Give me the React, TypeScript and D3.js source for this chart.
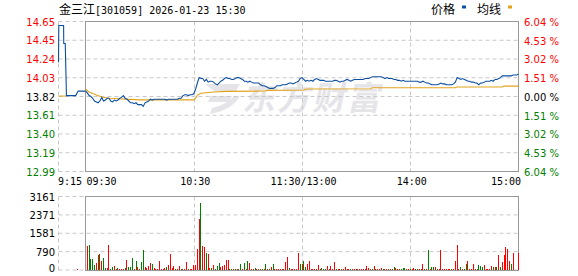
import React from 'react';
import * as d3 from 'd3';

const prevClose = 13.82;
const pctRange = 0.0604;
const priceTicks = ['14.65', '14.45', '14.24', '14.03', '13.82', '13.61', '13.40', '13.19', '12.99'];
const pctTicks = ['6.04', '4.53', '3.02', '1.51', '0.00', '1.51', '3.02', '4.53', '6.04'];
const volTicks = [3161, 2371, 1581, 790, 0];
const timeTicks = [60, 120, 180];
const timeLabels = ['9:15', '09:30', '10:30', '11:30/13:00', '14:00', '15:00'];

// pre-market (9:15-9:30), seconds after 9:15
const preSec = [0, 10, 170, 175, 225, 265, 575, 655, 900];
const prePrice = [14.2, 14.61, 14.61, 14.41, 14.41, 13.83, 13.83, 13.88, 13.88];
const preAvgSec = [0, 265];
const preAvg = [13.825, 13.825];
const preVolSec = [645];
const preVol = [60];

// one value per minute, 9:30 .. 15:00 (241)
const price = [
  13.88, 13.86, 13.83, 13.82, 13.8, 13.77, 13.76, 13.75, 13.77, 13.81,
  13.77, 13.78, 13.8, 13.8, 13.77, 13.76, 13.78, 13.77, 13.78, 13.8,
  13.81, 13.83, 13.8, 13.79, 13.77, 13.75, 13.75, 13.74, 13.75, 13.73,
  13.73, 13.73, 13.71, 13.75, 13.76, 13.77, 13.79, 13.78, 13.79, 13.79,
  13.79, 13.79, 13.79, 13.79, 13.79, 13.78, 13.79, 13.79, 13.79, 13.79,
  13.79, 13.79, 13.8, 13.8, 13.83, 13.84, 13.84, 13.83, 13.84, 13.84,
  13.85, 13.9, 13.97, 14.03, 14.02, 14.02, 13.99, 14.01, 13.98, 13.99,
  13.99, 13.98, 13.96, 13.95, 13.97, 13.99, 14.0, 14.02, 14.03, 14.02,
  14.02, 14.01, 14.01, 14.02, 14.03, 14.03, 14.02, 14.01, 13.99, 13.99,
  13.98, 13.99, 13.98, 13.97, 13.97, 13.97, 13.97, 13.95, 13.94, 13.94,
  13.93, 13.92, 13.91, 13.91, 13.91, 13.92, 13.94, 13.94, 13.94, 13.95,
  13.95, 13.95, 13.96, 13.97, 13.97, 13.96, 13.97, 13.98, 13.99, 14.02,
  14.03, 14.01, 13.99, 14.0, 13.99, 14.0, 13.99, 14.01, 14.02, 14.01,
  14.0, 14.0, 14.0, 13.99, 13.99, 13.99, 13.99, 13.99, 14.0, 14.0,
  13.99, 13.98, 13.99, 13.99, 14.0, 14.01, 14.0, 13.99, 14.0, 14.01,
  14.01, 14.01, 14.01, 14.01, 14.01, 14.02, 14.02, 14.02, 14.03, 14.04,
  14.04, 14.04, 14.04, 14.04, 14.04, 14.03, 14.02, 14.03, 14.02, 14.02,
  14.02, 14.01, 14.01, 14.0, 14.0, 13.99, 14.0, 13.99, 13.99, 13.99,
  13.99, 13.99, 13.99, 13.99, 13.99, 13.98, 13.98, 13.99, 13.98, 13.97,
  13.97, 13.96, 13.95, 13.95, 13.95, 13.95, 13.96, 13.97, 13.96, 13.96,
  13.95, 13.95, 13.95, 13.95, 13.96, 13.98, 14.03, 14.02, 14.01, 14.02,
  14.01, 14.0, 13.99, 13.99, 13.98, 13.98, 13.97, 13.97, 13.95, 13.97,
  13.97, 13.98, 13.99, 13.99, 13.99, 14.0, 13.99, 14.01, 14.01, 14.02,
  14.03, 14.05, 14.05, 14.05, 14.05, 14.05, 14.05, 14.06, 14.06, 14.06,
  14.07,
];

// average price line, read at its turning points
const avgMin = [0, 2, 5, 9, 13, 30, 60, 61, 62, 64, 71, 78, 99, 101, 121, 122, 158, 159, 205, 206, 231, 232, 240];
const avgVal = [13.9, 13.87, 13.845, 13.815, 13.8, 13.782, 13.782, 13.8, 13.833, 13.856, 13.87, 13.877, 13.881, 13.888, 13.892, 13.903, 13.906, 13.917, 13.917, 13.925, 13.925, 13.936, 13.936];

const vol = [
  0, 1025, 1070, 470, 470, 210, 280, 640, 680, 385,
  510, 85, 85, 1070, 40, 130, 170, 40, 85, 40,
  40, 40, 85, 430, 130, 130, 510, 40, 385, 130,
  40, 340, 850, 130, 85, 170, 300, 255, 85, 40,
  40, 385, 40, 40, 85, 130, 210, 680, 85, 170,
  40, 40, 170, 40, 40, 40, 340, 40, 40, 40,
  210, 210, 900, 2180, 2900, 1025, 980, 725, 680, 85,
  85, 210, 40, 170, 300, 130, 170, 210, 430, 430,
  40, 40, 40, 40, 40, 40, 255, 40, 300, 40,
  385, 300, 40, 40, 85, 40, 40, 40, 40, 40,
  255, 40, 40, 130, 255, 40, 40, 40, 40, 40,
  40, 340, 555, 85, 40, 40, 40, 40, 725, 255,
  255, 385, 130, 255, 385, 40, 40, 40, 40, 210,
  40, 85, 40, 40, 170, 40, 170, 40, 340, 40,
  40, 40, 40, 40, 130, 40, 40, 40, 40, 40,
  40, 40, 40, 40, 40, 40, 170, 85, 40, 40,
  170, 40, 40, 40, 85, 40, 40, 40, 40, 40,
  40, 130, 85, 40, 40, 40, 85, 85, 40, 40,
  40, 40, 85, 40, 40, 40, 40, 255, 40, 40,
  850, 40, 130, 130, 130, 40, 40, 850, 40, 40,
  40, 40, 40, 40, 40, 385, 1070, 40, 130, 40,
  40, 255, 385, 40, 40, 255, 40, 40, 210, 170,
  130, 210, 40, 40, 40, 170, 130, 130, 130, 640,
  130, 340, 640, 980, 900, 385, 255, 725, 0, 0,
  725,
];

// r = up minute (red), g = down minute (green)
const volDir = [
  'r', 'r', 'g', 'g', 'g', 'g', 'r', 'g', 'r', 'r',
  'g', 'g', 'r', 'r', 'g', 'g', 'r', 'r', 'g', 'r',
  'r', 'r', 'g', 'r', 'g', 'g', 'g', 'r', 'g', 'r',
  'r', 'g', 'g', 'r', 'r', 'r', 'r', 'g', 'r', 'r',
  'r', 'r', 'r', 'r', 'r', 'g', 'r', 'r', 'r', 'r',
  'g', 'r', 'r', 'g', 'r', 'r', 'r', 'g', 'r', 'r',
  'r', 'r', 'r', 'r', 'g', 'r', 'r', 'g', 'r', 'r',
  'g', 'r', 'g', 'g', 'g', 'r', 'r', 'r', 'r', 'r',
  'g', 'g', 'r', 'g', 'r', 'g', 'g', 'r', 'g', 'r',
  'g', 'r', 'r', 'r', 'g', 'r', 'g', 'r', 'g', 'r',
  'g', 'r', 'g', 'r', 'g', 'r', 'r', 'r', 'r', 'g',
  'r', 'r', 'r', 'g', 'r', 'r', 'r', 'r', 'r', 'g',
  'r', 'g', 'g', 'r', 'r', 'r', 'r', 'r', 'r', 'r',
  'r', 'g', 'g', 'g', 'r', 'r', 'r', 'r', 'r', 'g',
  'r', 'r', 'g', 'r', 'r', 'r', 'r', 'g', 'r', 'r',
  'r', 'g', 'r', 'r', 'r', 'r', 'r', 'r', 'g', 'r',
  'r', 'g', 'r', 'r', 'r', 'g', 'r', 'r', 'g', 'r',
  'g', 'g', 'r', 'r', 'r', 'g', 'g', 'g', 'r', 'r',
  'g', 'r', 'r', 'r', 'g', 'r', 'r', 'r', 'g', 'r',
  'g', 'r', 'g', 'g', 'r', 'g', 'r', 'r', 'r', 'r',
  'r', 'r', 'r', 'g', 'r', 'r', 'r', 'r', 'g', 'r',
  'g', 'g', 'r', 'r', 'r', 'r', 'r', 'g', 'g', 'g',
  'g', 'r', 'r', 'r', 'r', 'r', 'g', 'r', 'g', 'r',
  'g', 'r', 'r', 'r', 'r', 'r', 'g', 'r', 'r', 'r',
  'r',
];

const W = 578;
const H = 276;
const X_PRE = 58.5;
const X0 = 85.5;
const X1 = 518.5;
const PY0 = 21.5;
const PY1 = 171.5;
const VY0 = 196.5;
const VY1 = 270.5;

const RED = '#ff0000';
const GREEN = '#008000';
const BLUE = '#0c4fa0';
const GOLD = '#e2a31a';
const GRID = '#c8c8c8';
const FRAME = '#999999';
const NUM_FONT = 'DejaVu Sans, Verdana, sans-serif';
const MONO_FONT = 'DejaVu Sans Mono, monospace';
const CJK_FONT = 'Noto Sans CJK SC, sans-serif';

export default function App() {
  const x = d3.scaleLinear().domain([0, 240]).range([X0, X1]);
  const xPre = d3.scaleLinear().domain([0, 900]).range([X_PRE, X0]);
  const y = d3
    .scaleLinear()
    .domain([prevClose * (1 - pctRange), prevClose * (1 + pctRange)])
    .range([PY1, PY0]);
  const yv = d3.scaleLinear().domain([0, volTicks[0]]).range([VY1 - 0.5, VY0]);
  const tickY = d3.scaleLinear().domain([0, priceTicks.length - 1]).range([PY0, PY1]);
  const vTickY = d3.scaleLinear().domain([0, volTicks.length - 1]).range([VY0, VY1 - 0.5]);

  const line = d3
    .line<number>()
    .x((_, i) => x(i))
    .y((d) => y(d));
  const avgLine = d3
    .line<number>()
    .x((_, i) => x(avgMin[i]))
    .y((d) => y(d));
  const preLine = d3
    .line<number>()
    .x((_, i) => xPre(preSec[i]))
    .y((d) => y(d));
  const preAvgLine = d3
    .line<number>()
    .x((_, i) => xPre(preAvgSec[i]))
    .y((d) => y(d));

  const labelColor = (i: number) => (i < 4 ? RED : i === 4 ? '#000' : GREEN);

  return (
    <svg
      width={W}
      height={H}
      viewBox={`0 0 ${W} ${H}`}
      style={{ position: 'absolute', left: 0, top: 0, background: '#fff' }}
    >
      <rect x={0} y={0} width={W} height={H} fill="#fff" />

      {/* title */}
      <text x={59} y={14} fontSize={12} fontFamily={CJK_FONT} fill="#000">
        金三江
      </text>
      <text x={95} y={14} fontSize={10} fontFamily={MONO_FONT} fill="#000">
        [301059] 2026-01-23 15:30
      </text>

      {/* legend */}
      <text x={431} y={14} fontSize={12} fontFamily={CJK_FONT} fill="#000">
        价格
      </text>
      <rect x={462} y={5.5} width={4} height={3} fill={BLUE} />
      <text x={477} y={14} fontSize={12} fontFamily={CJK_FONT} fill="#000">
        均线
      </text>
      <rect x={508} y={5.5} width={4} height={3} fill={GOLD} />

      {/* watermark */}
      <g fill="#e5e5e9" stroke="none">
        <path
          d="M205,84 L240,84 L236,91 L214,91 Z M210,96 L232,96 L229,102 L208,102 Z M234,96 L240,96 Q232,110 210,114 L212,108 Q228,104 234,96 Z"
          fill="#e5e5e9"
        />
        <text
          transform="translate(242,110) skewX(-12)"
          fontSize={33}
          fontWeight="bold"
          fontFamily={CJK_FONT}
          letterSpacing={2}
        >
          东方财富
        </text>
      </g>

      {/* price grid */}
      <g stroke={GRID} strokeWidth={1} strokeDasharray="4,3" fill="none">
        {priceTicks.map((t, i) => (
          <line key={t + i} x1={X_PRE} x2={X1} y1={tickY(i)} y2={tickY(i)} />
        ))}
        <line x1={X_PRE} x2={X_PRE} y1={PY0} y2={PY1} />
        {timeTicks.map((m) => (
          <line key={m} x1={Math.round(x(m)) + 0.5} x2={Math.round(x(m)) + 0.5} y1={PY0} y2={PY1} />
        ))}
      </g>

      {/* volume grid */}
      <g stroke={GRID} strokeWidth={1} strokeDasharray="4,3" fill="none">
        {volTicks.map((t, i) => (
          <line key={t} x1={X_PRE} x2={X1} y1={vTickY(i)} y2={vTickY(i)} />
        ))}
        <line x1={X_PRE} x2={X_PRE} y1={VY0} y2={VY1} />
        {timeTicks.map((m) => (
          <line key={m} x1={Math.round(x(m)) + 0.5} x2={Math.round(x(m)) + 0.5} y1={VY0} y2={VY1} />
        ))}
      </g>

      {/* frames */}
      <rect x={X0} y={PY0} width={X1 - X0} height={PY1 - PY0} fill="none" stroke={FRAME} strokeWidth={1} />
      <rect x={X0} y={VY0} width={X1 - X0} height={VY1 - VY0} fill="none" stroke={FRAME} strokeWidth={1} />

      {/* price lines */}
      <path d={preAvgLine(preAvg) || ''} fill="none" stroke={GOLD} strokeWidth={1} />
      <path d={preLine(prePrice) || ''} fill="none" stroke={BLUE} strokeWidth={1.1} />
      <path d={avgLine(avgVal) || ''} fill="none" stroke={GOLD} strokeWidth={1.1} />
      <path d={line(price) || ''} fill="none" stroke={BLUE} strokeWidth={1.1} />

      {/* volume bars */}
      <g shapeRendering="crispEdges">
        {preVol.map((v, i) => (
          <rect
            key={'p' + i}
            x={xPre(preVolSec[i]) - 0.5}
            y={yv(v)}
            width={1}
            height={yv(0) - yv(v)}
            fill={RED}
          />
        ))}
        {vol.map((v, i) =>
          v > 0 ? (
            <rect
              key={i}
              x={x(i) - 0.5}
              y={yv(v)}
              width={1}
              height={yv(0) - yv(v)}
              fill={volDir[i] === 'r' ? RED : GREEN}
            />
          ) : null
        )}
      </g>

      {/* left price labels */}
      <g fontSize={10} fontFamily={NUM_FONT} textAnchor="end">
        {priceTicks.map((t, i) => (
          <text key={t + i} x={55} y={tickY(i) + 4} fill={labelColor(i)}>
            {t}
          </text>
        ))}
      </g>

      {/* right percentage labels */}
      <g fontSize={10} fontFamily={NUM_FONT}>
        {pctTicks.map((t, i) => (
          <text key={t + i} x={524} y={tickY(i) + 4.3} fill={labelColor(i)}>
            {t} %
          </text>
        ))}
      </g>

      {/* volume labels */}
      <g fontSize={10} fontFamily={NUM_FONT} textAnchor="end" fill="#000">
        {volTicks.map((t, i) => (
          <text key={t} x={55} y={Math.min(vTickY(i) + 4, 272)}>
            {t}
          </text>
        ))}
      </g>

      {/* time labels */}
      <g fontSize={10} fontFamily={MONO_FONT} fill="#000">
        <text x={58} y={185}>
          {timeLabels[0]}
        </text>
        <text x={86.5} y={185}>
          {timeLabels[1]}
        </text>
        {timeTicks.map((m, i) => (
          <text key={m} x={x(m) + 1.5} y={185} textAnchor="middle">
            {timeLabels[i + 2]}
          </text>
        ))}
        <text x={521} y={185} textAnchor="end">
          {timeLabels[5]}
        </text>
      </g>
    </svg>
  );
}
